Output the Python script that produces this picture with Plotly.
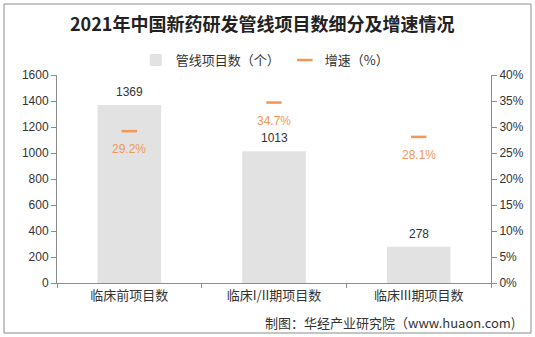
import plotly.graph_objects as go

# Data
categories = ["临床前项目数", "临床I/II期项目数", "临床III期项目数"]
project_counts = [1369, 1013, 278]
growth_rates = [0.292, 0.347, 0.281]

W, H = 535, 337
ML, MR, MT, MB = 57, 44, 75, 54

BAR_COLOR = "#E1E2E1"
ORANGE = "#F0975A"
AXIS_GRAY = "#8C8C8C"
TXT = "#333333"
CN_FONT = "Noto Sans CJK SC"
NUM_FONT = "Liberation Sans"

fig = go.Figure()

fig.add_trace(go.Bar(
    x=categories, y=project_counts, name="管线项目数（个）",
    marker=dict(color=BAR_COLOR, line=dict(width=0)),
    width=0.44, yaxis="y",
))

fig.add_trace(go.Scatter(
    x=categories, y=growth_rates, name="增速（%）", mode="markers",
    marker=dict(symbol="line-ew", size=11, line=dict(width=2.5, color=ORANGE), color=ORANGE),
    yaxis="y2",
))

annotations = []
for c, v in zip(categories, project_counts):
    annotations.append(dict(x=c, y=v, xref="x", yref="y", text=str(v), showarrow=False,
                            yshift=13, font=dict(family=NUM_FONT, size=12, color=TXT)))
for c, g in zip(categories, growth_rates):
    annotations.append(dict(x=c, y=g, xref="x", yref="y2", text=f"{g*100:.1f}%", showarrow=False,
                            yshift=-18, font=dict(family=NUM_FONT, size=12, color=ORANGE)))

annotations.append(dict(xref="paper", yref="paper", x=(517 - ML) / (W - ML - MR),
                        y=(H - MB - 322) / (H - MT - MB), xanchor="right", yanchor="middle",
                        text="制图：华经产业研究院（www.huaon.com)", showarrow=False,
                        font=dict(family=CN_FONT, size=13, color=TXT)))

pw = W - ML - MR
ph = H - MT - MB
def px_x(v):
    return (v - ML) / pw
def px_y(v):
    return (H - MB - v) / ph

fig.update_layout(
    width=W, height=H,
    margin=dict(l=ML, r=MR, t=MT, b=MB, autoexpand=False),
    paper_bgcolor="white", plot_bgcolor="white",
    title=dict(text="<b>2021年中国新药研发管线项目数细分及增速情况</b>",
               x=0.49, xref="container", xanchor="center",
               y=1 - 25 / H, yref="container", yanchor="middle",
               font=dict(family=CN_FONT, size=18, color="#222222")),
    legend=dict(orientation="h", x=0.495, xref="container", xanchor="center",
                y=1 - 60 / H, yref="container", yanchor="middle",
                font=dict(family=CN_FONT, size=13, color=TXT),
                itemwidth=30, bgcolor="rgba(0,0,0,0)"),
    bargap=0.56,
    xaxis=dict(type="category", showline=True, linecolor=AXIS_GRAY, linewidth=1,
               ticks="outside", tickson="boundaries", ticklen=4, tickcolor=AXIS_GRAY,
               tickfont=dict(family=CN_FONT, size=13, color=TXT), showgrid=False),
    yaxis=dict(range=[0, 1600], dtick=200, showline=True, linecolor=AXIS_GRAY, linewidth=1,
               ticks="outside", ticklen=5, tickcolor=AXIS_GRAY, showgrid=False, zeroline=False,
               tickfont=dict(family=NUM_FONT, size=12, color=TXT)),
    yaxis2=dict(range=[0, 0.4], dtick=0.05, tickformat=".0%", overlaying="y", side="right",
                showline=True, linecolor=AXIS_GRAY, linewidth=1, ticks="outside", ticklen=5,
                tickcolor=AXIS_GRAY, showgrid=False, zeroline=False,
                tickfont=dict(family=NUM_FONT, size=12, color=TXT)),
    annotations=annotations,
    shapes=[dict(type="rect", xref="paper", yref="paper",
                 x0=px_x(4), x1=px_x(531), y0=px_y(333), y1=px_y(4),
                 line=dict(color="#8A8A8A", width=1), fillcolor="rgba(0,0,0,0)", layer="below")],
)

fig.write_html("out.html")
